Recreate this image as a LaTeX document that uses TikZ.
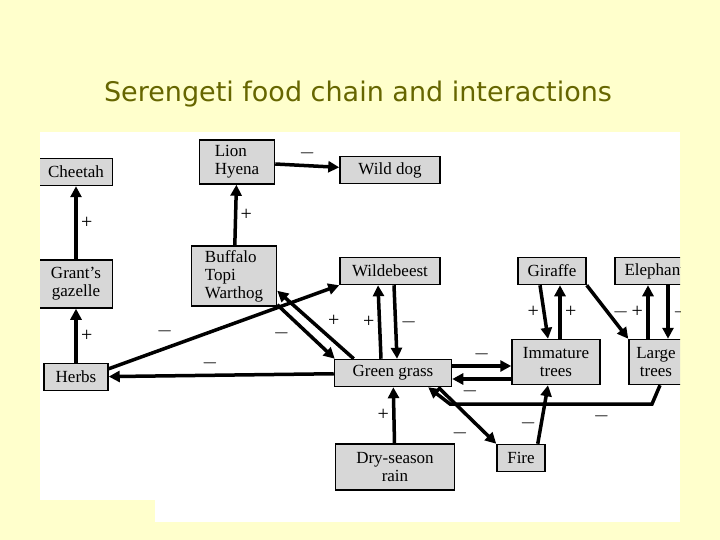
\documentclass[tikz,border=0pt]{standalone}
\usepackage{fontspec}
\setmainfont{Liberation Serif}
\newfontfamily\titlefont{DejaVu Sans}
\usetikzlibrary{arrows.meta,positioning}
\definecolor{slidebg}{RGB}{255,255,204}
\definecolor{titleolive}{RGB}{102,102,0}
\definecolor{boxgray}{RGB}{215,215,215}

\tikzset{
    box/.style={draw, line width=1.5pt, fill=boxgray, font=\fontsize{17}{18}\selectfont,
        align=center, inner sep=1pt, minimum height=27pt},
    link/.style={line width=3.5pt, -{Triangle[length=11pt,width=11pt]}},
    sign/.style={font=\fontsize{20}{20}\selectfont}
}

\begin{document}
\begin{tikzpicture}[x=1pt, y=-1pt]
    \useasboundingbox (0,0) rectangle (720,540);
    \fill[slidebg] (0,0) rectangle (720,540);
    \node[text=titleolive, font=\titlefont\fontsize{27}{27}\selectfont] (title) at (358,94) {Serengeti food chain and interactions};
    \fill[white] (40,132) rectangle (680,500);
    \fill[white] (155,500) rectangle (680,522);

    \begin{scope}
    \clip (40,132) rectangle (680,522);
    % animals and plants
    \node[box, minimum width=73pt] (cheetah) at (76,172) {Cheetah};
    \node[box, minimum width=75pt, align=left, minimum height=44pt] (lion) at (237,162) {Lion\\Hyena};
    \node[box, minimum width=100pt] (wilddog) at (390,170) {Wild dog};
    \node[box, minimum width=73pt, minimum height=48pt] (gazelle) at (76,284) {Grant's\\gazelle};
    \node[box, minimum width=85pt, align=left, minimum height=60pt] (buffalo) at (234,276) {Buffalo\\Topi\\Warthog};
    \node[box, minimum width=100pt] (wildebeest) at (390,271) {Wildebeest};
    \node[box, minimum width=68pt] (giraffe) at (552,271) {Giraffe};
    \node[box, minimum width=80pt, anchor=west, align=left] (elephant) at (614,271) {Elephant};
    \node[box, minimum width=64pt] (herbs) at (76,377) {Herbs};
    \node[box, minimum width=117pt] (grass) at (393,373) {Green grass};
    \node[box, minimum width=88pt, minimum height=45pt] (immature) at (556,362) {Immature\\trees};
    \node[box, minimum width=54pt, minimum height=45pt] (large) at (656,362) {Large\\trees};
    \node[box, minimum width=119pt, minimum height=46pt] (rain) at (395,467) {Dry-season\\rain};
    \node[box, minimum width=48pt] (fire) at (521,458) {Fire};

    % interactions
    \draw[link] (gazelle) -- node[sign, right] {+} (cheetah);
    \draw[link] (herbs) -- node[sign, right] {+} (gazelle);
    \draw[link] (buffalo) -- node[sign, right] {+} (lion);
    \draw[link] (lion) -- node[sign, above] {$-$} (wilddog);
    \draw[link] (grass) -- node[sign, above, pos=0.55] {$-$} (herbs);
    \draw[link] ([yshift=-6pt]herbs.north east) -- node[sign, above left, pos=0.3] {$-$} (wildebeest.south west);
    \draw[link] ([yshift=2pt]buffalo.south east) -- node[sign, below left, pos=0.3] {$-$} ([xshift=1pt]grass.north west);
    \draw[link] ([xshift=20pt]grass.north west) -- node[sign, above right, pos=0.4] {+} ([yshift=16pt]buffalo.south east);
    \draw[link] ([xshift=-12pt]grass.north) -- node[sign, left] {+} ([xshift=-12pt]wildebeest.south);
    \draw[link] ([xshift=4pt]wildebeest.south) -- node[sign, right] {$-$} ([xshift=4pt]grass.north);
    \draw[link] (rain) -- node[sign, left] {+} (grass);
    \draw[link] ([yshift=7pt]grass.east) -- node[sign, above] {$-$} ([yshift=7pt]grass.east -| immature.west);
    \draw[link] ([yshift=-6pt]grass.east -| immature.west) -- node[sign, below, pos=0.7] {$-$} ([yshift=-6pt]grass.east);
    \draw[link] ([xshift=-14pt]grass.south east) -- node[sign, below left, pos=0.6] {$-$} (fire.north west);
    \draw[link] ([xshift=-8pt]fire.north east) -- node[sign, left, pos=0.35] {$-$} ([xshift=-8pt]immature.south);
    \coordinate (lt1) at (652,404);
    \coordinate (lt2) at (450,404);
    \draw[link] ([xshift=4pt]large.south) -- (lt1) -- node[sign, below, pos=0.25] {$-$} (lt2) -- ([xshift=-24pt]grass.south east);
    \draw[link] ([xshift=-12pt]giraffe.south) -- node[sign, left] {+} ([xshift=-8pt]immature.north);
    \draw[link] ([xshift=4pt]immature.north) -- node[sign, right] {+} ([xshift=8pt]giraffe.south);
    \draw[link] (giraffe.south east) -- node[sign, right, pos=0.5] {$-$} (large.north west);
    \draw[link] ([xshift=-8pt]large.north) -- node[sign, left] {+} ([xshift=-8pt]large.north |- elephant.south);
    \draw[link] ([xshift=12pt]large.north |- elephant.south) -- node[sign, right] {$-$} ([xshift=12pt]large.north);
    \end{scope}
\end{tikzpicture}
\end{document}
